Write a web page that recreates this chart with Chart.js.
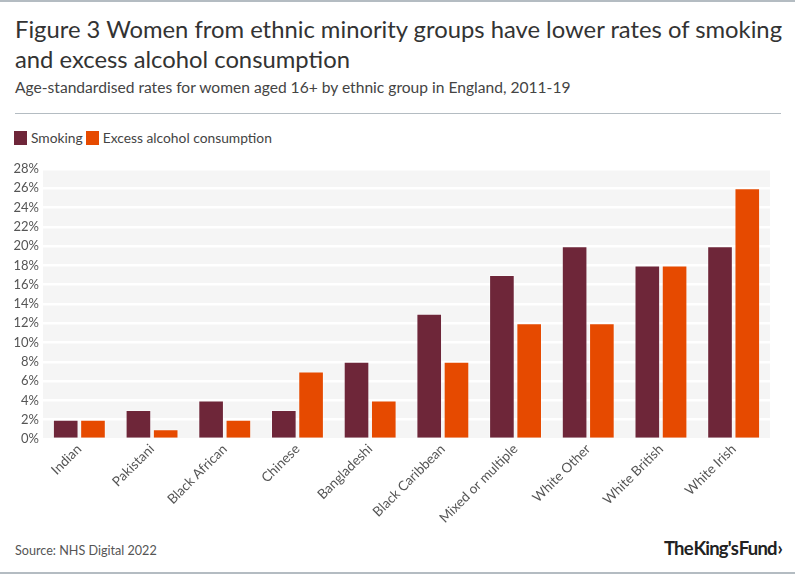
<!DOCTYPE html>
<html>
<head>
<meta charset="utf-8">
<script src="https://cdn.jsdelivr.net/npm/chart.js@4/dist/chart.umd.min.js"></script>
<style>
  html, body { margin: 0; padding: 0; background: #fff; }
  #wrap {
    position: relative; width: 795px; height: 574px; overflow: hidden;
    font-family: Lato, "Noto Sans", sans-serif; color: #333;
    border-top: 2px solid #b4bcc2; border-bottom: 2px solid #b4bcc2; box-sizing: border-box;
  }
  #title { position: absolute; left: 15px; top: 12px; width: 775px; font-size: 23.8px; line-height: 30px; color: #333; }
  #subtitle { position: absolute; left: 15px; top: 76px; font-size: 15.6px; color: #444; }
  #rule { position: absolute; left: 15px; top: 111px; width: 766px; height: 1px; background: #b4bcc2; }
  #legend { position: absolute; left: 14px; top: 127px; font-size: 13.8px; color: #444; display: flex; align-items: center; }
  #legend span.box { display: inline-block; width: 13px; height: 14px; margin-right: 4px; }
  #legend span.lab { margin-right: 3px; }
  #chartBox { position: absolute; left: 0; top: 152px; width: 795px; height: 378px; }
  #source { position: absolute; left: 15px; top: 541px; font-size: 12.6px; color: #555; }
  #logo { position: absolute; right: 13px; top: 535px; font-size: 18.5px; font-weight: bold; color: #222; letter-spacing: -0.8px; word-spacing: -3px; }
</style>
</head>
<body>
<div id="wrap">
  <div id="title">Figure 3 Women from ethnic minority groups have lower rates of smoking and excess alcohol consumption</div>
  <div id="subtitle">Age-standardised rates for women aged 16+ by ethnic group in England, 2011-19</div>
  <div id="rule"></div>
  <div id="legend"></div>
  <div id="chartBox"><canvas id="chart"></canvas></div>
  <div id="source">Source: NHS Digital 2022</div>
  <div id="logo">The King's Fund ›</div>
</div>
<script>
// Chart data
const groups = ['Indian', 'Pakistani', 'Black African', 'Chinese', 'Bangladeshi',
  'Black Caribbean', 'Mixed or multiple', 'White Other', 'White British', 'White Irish'];
const smoking = [2, 3, 4, 3, 8, 13, 17, 20, 18, 20];
const alcohol = [2, 1, 2, 7, 4, 8, 12, 12, 18, 26];
const seriesNames = ['Smoking', 'Excess alcohol consumption'];
const seriesColors = ['#6e2639', '#e64a00'];

// HTML legend
const legendEl = document.getElementById('legend');
seriesNames.forEach((name, i) => {
    legendEl.insertAdjacentHTML('beforeend',
        `<span class="box" style="background:${seriesColors[i]}"></span><span class="lab">${name}</span>`);
});

// Grey plot background drawn under the grid
const plotBackground = {
    id: 'plotBackground',
    beforeDraw(chart) {
        const { ctx, chartArea: a } = chart;
        ctx.save();
        ctx.fillStyle = '#f5f5f5';
        ctx.fillRect(a.left, a.top, a.right - a.left, a.bottom - a.top);
        ctx.restore();
    }
};

new Chart(document.getElementById('chart'), {
    type: 'bar',
    data: {
        labels: groups,
        datasets: [
            { label: seriesNames[0], data: smoking, backgroundColor: seriesColors[0],
              borderColor: 'rgba(255,255,255,0.45)', borderWidth: 1 },
            { label: seriesNames[1], data: alcohol, backgroundColor: seriesColors[1],
              borderColor: 'rgba(255,255,255,0.45)', borderWidth: 1 }
        ]
    },
    options: {
        responsive: true,
        maintainAspectRatio: false,
        animation: false,
        layout: { padding: { top: 15, right: 25, left: 0, bottom: 0 } },
        datasets: { bar: { categoryPercentage: 0.75, barPercentage: 0.94 } },
        plugins: {
            legend: { display: false },
            tooltip: { enabled: false }
        },
        scales: {
            x: {
                grid: { display: false, drawTicks: false },
                border: { display: false },
                ticks: {
                    color: '#555', font: { family: 'Lato', size: 13.5 },
                    minRotation: 45, maxRotation: 45, autoSkip: false, padding: 2
                },
                afterFit(s) { s.height = 93; }
            },
            y: {
                min: 0, max: 28,
                grid: { color: '#ffffff', lineWidth: 2.5, drawTicks: false },
                border: { display: false },
                ticks: {
                    stepSize: 2, color: '#555', padding: 4,
                    font: { family: 'Lato', size: 13 },
                    callback: v => v + '%'
                },
                afterFit(s) { s.width = 43; }
            }
        }
    },
    plugins: [plotBackground]
});
</script>
</body>
</html>
